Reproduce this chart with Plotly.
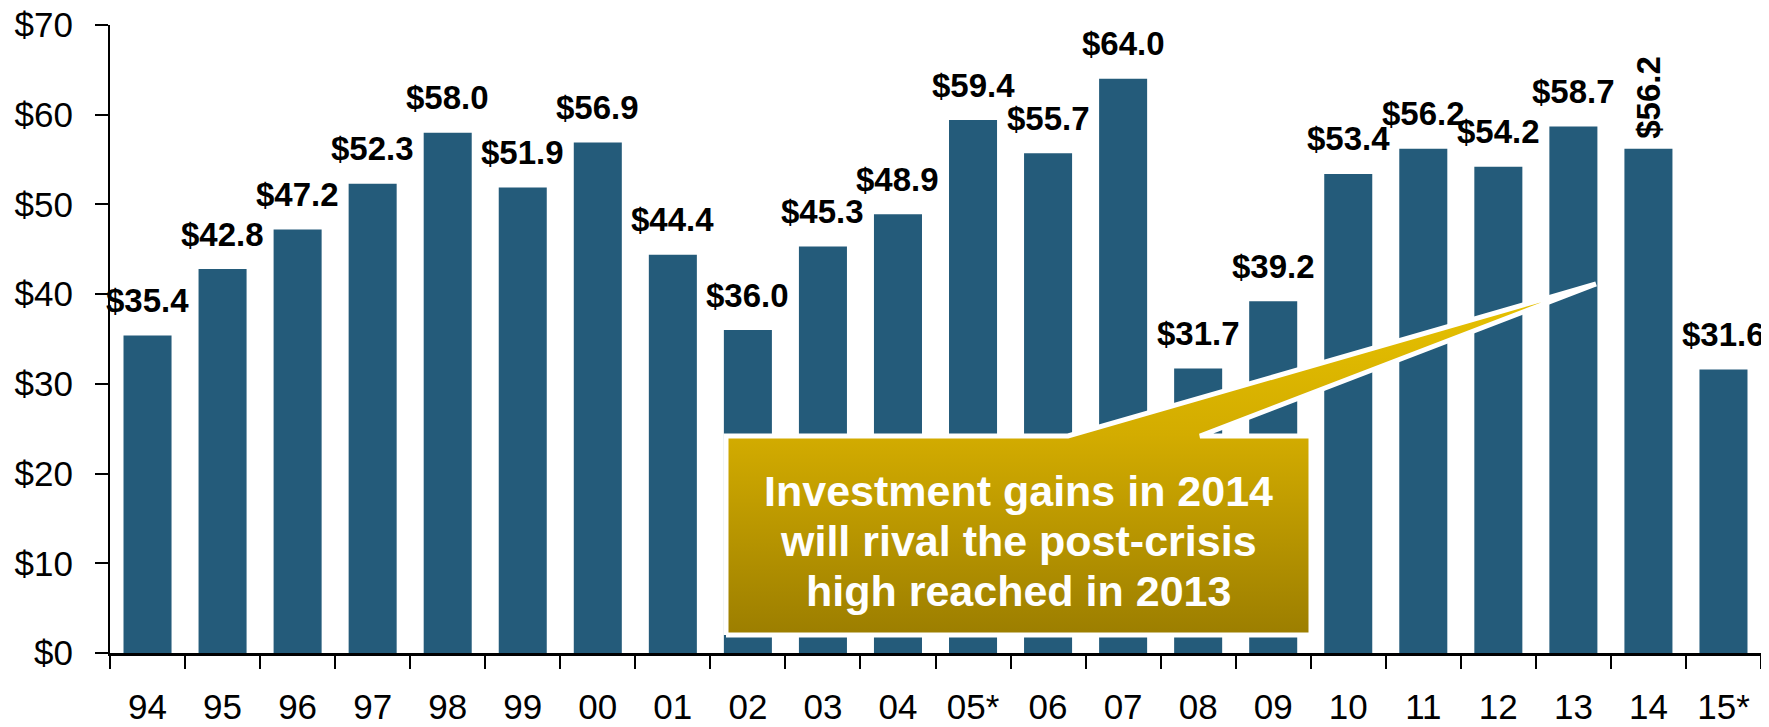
import plotly.graph_objects as go

# ---- data ----
categories = ["94", "95", "96", "97", "98", "99", "00", "01", "02", "03", "04",
              "05*", "06", "07", "08", "09", "10", "11", "12", "13", "14", "15*"]
gains = [35.4, 42.8, 47.2, 52.3, 58.0, 51.9, 56.9, 44.4, 36.0, 45.3, 48.9,
         59.4, 55.7, 64.0, 31.7, 39.2, 53.4, 56.2, 54.2, 58.7, 56.2, 31.6]
label_text = ["$%.1f" % v for v in gains]
y_tick_vals = [0, 10, 20, 30, 40, 50, 60, 70]
y_tick_text = ["$0", "$10", "$20", "$30", "$40", "$50", "$60", "$70"]
callout_lines = ["Investment gains in 2014", "will rival the post-crisis", "high reached in 2013"]

# page geometry (page has an 8px body margin)
PAGE_W, PAGE_H, OFF = 1769, 727, 8
PL, PR, PT, PB = 110, 1761, 25, 653          # plot area in page pixels
W, H = PAGE_W - OFF, PAGE_H - OFF
ML, MT = PL - OFF, PT - OFF
MR = W - (PR - OFF)
MB = H - (PB - OFF)
n = len(categories)
YMAX = 70

def px_x(px):
    return (px - PL) / (PR - PL) * n - 0.5

def px_y(py):
    return (PB - py) / (PB - PT) * YMAX

BAR = "#245B7A"
FONT = "Liberation Sans, Arial, sans-serif"

fig = go.Figure()
fig.add_trace(go.Bar(x=categories, y=gains, marker=dict(color=BAR, line=dict(width=0)),
                     hoverinfo="skip", showlegend=False))

# callout polygon (box + pointer), decoration in page pixels converted to axis units
poly_px = [(726, 635), (726, 436), (1068, 436), (1596, 284), (1200, 436),
           (1311, 436), (1311, 635), (726, 635)]
fig.add_trace(go.Scatter(
    x=[px_x(p[0]) for p in poly_px], y=[px_y(p[1]) for p in poly_px],
    xaxis="x2", yaxis="y2", mode="lines", fill="toself",
    line=dict(color="white", width=5),
    fillgradient=dict(type="vertical",
                      colorscale=[[0, "#9C7E00"], [0.57, "#D3AC00"], [1, "#E8C300"]]),
    hoverinfo="skip", showlegend=False))

annotations = []
for i, (c, v, t) in enumerate(zip(categories, gains, label_text)):
    if c == "14":
        annotations.append(dict(x=i, y=v, xref="x2", yref="y2", text="<b>%s</b>" % t,
                                showarrow=False, textangle=-90, yanchor="bottom",
                                yshift=8, font=dict(family=FONT, size=33, color="black")))
    else:
        annotations.append(dict(x=i, y=v, xref="x2", yref="y2", text="<b>%s</b>" % t,
                                showarrow=False, yanchor="middle", yshift=35,
                                font=dict(family=FONT, size=33, color="black")))

cx = px_x((726 + 1311) / 2)
for line, py in zip(callout_lines, [491, 541, 591]):
    annotations.append(dict(x=cx, y=px_y(py), xref="x2", yref="y2", text="<b>%s</b>" % line,
                            showarrow=False, xanchor="center", yanchor="middle",
                            font=dict(family=FONT, size=43, color="white")))

fig.update_layout(
    width=W, height=H,
    margin=dict(l=ML, r=MR, t=MT, b=MB, pad=0, autoexpand=False),
    paper_bgcolor="white", plot_bgcolor="white",
    bargap=0.36,
    font=dict(family=FONT, color="black"),
    xaxis=dict(type="category", categoryorder="array", categoryarray=categories,
               range=[-0.5, n - 0.5], tickson="boundaries", ticks="outside", ticklen=13,
               tickwidth=2, tickcolor="black", showline=True, linecolor="black",
               linewidth=3, showgrid=False, zeroline=False, tickangle=0, automargin=False,
               tickfont=dict(family=FONT, size=35, color="black"),
               ticklabelstandoff=21, ticklabeloverflow="allow", fixedrange=True),
    yaxis=dict(range=[0, YMAX], tickmode="array", tickvals=y_tick_vals, ticktext=y_tick_text,
               ticks="outside", ticklen=13,
               tickwidth=2, tickcolor="black", showline=True, linecolor="black",
               linewidth=2, showgrid=False, zeroline=False, automargin=False,
               tickfont=dict(family=FONT, size=35, color="black"),
               ticklabelstandoff=15, ticklabeloverflow="allow", fixedrange=True),
    xaxis2=dict(overlaying="x", range=[-0.5, n - 0.5], visible=False, fixedrange=True),
    yaxis2=dict(overlaying="y", range=[0, YMAX], visible=False, fixedrange=True),
    annotations=annotations,
)

fig.write_html("out.html")
